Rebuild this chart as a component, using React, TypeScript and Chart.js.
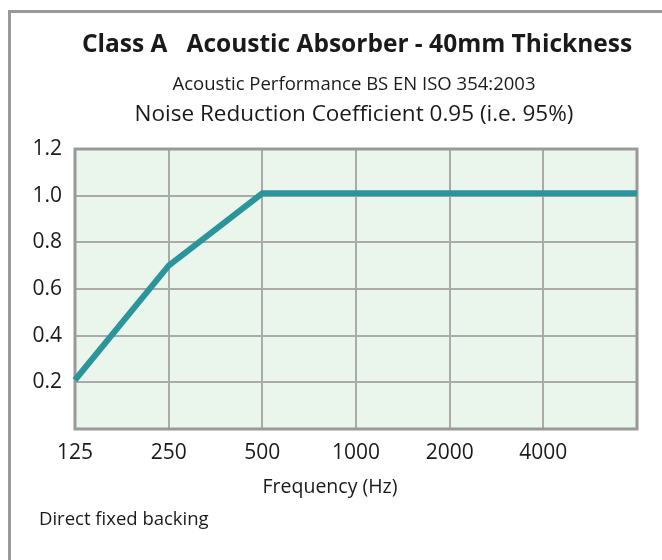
import React, { useEffect, useRef } from 'react';
import { Chart, registerables } from 'chart.js';

Chart.register(...registerables);

const frequencies = ['125', '250', '500', '1000', '2000', '4000', ''];
const absorption = [0.21, 0.7, 1.01, 1.01, 1.01, 1.01, 1.01];
const titleText = 'Class A   Acoustic Absorber - 40mm Thickness';
const subtitleText = 'Acoustic Performance BS EN ISO 354:2003';
const nrcText = 'Noise Reduction Coefficient 0.95 (i.e. 95%)';
const xAxisTitle = 'Frequency (Hz)';
const footnote = 'Direct fixed backing';

const FONT = '"Open Sans", "Noto Sans", sans-serif';

const decorPlugin = {
  id: 'decor',
  beforeDraw(chart: any) {
    const { ctx, chartArea } = chart;
    ctx.save();
    ctx.fillStyle = '#ffffff';
    ctx.fillRect(0, 0, chart.width, chart.height);
    ctx.fillStyle = '#eaf5ec';
    ctx.fillRect(chartArea.left, chartArea.top, chartArea.right - chartArea.left, chartArea.bottom - chartArea.top);
    ctx.restore();
  },
  beforeDatasetsDraw(chart: any) {
    const { ctx, chartArea } = chart;
    ctx.save();
    ctx.strokeStyle = '#999999';
    ctx.lineWidth = 3;
    ctx.strokeRect(chartArea.left, chartArea.top, chartArea.right - chartArea.left, chartArea.bottom - chartArea.top);
    ctx.restore();
  },
  afterDraw(chart: any) {
    const { ctx } = chart;
    ctx.save();
    ctx.fillStyle = '#999999';
    ctx.fillRect(8, 10, 3, chart.height - 10);
    ctx.fillRect(8, 10, chart.width - 8, 3);
    ctx.fillStyle = '#1a1a1a';
    ctx.textBaseline = 'alphabetic';
    ctx.textAlign = 'center';
    ctx.font = `bold 24.5px ${FONT}`;
    ctx.fillText(titleText, 357, 52);
    ctx.font = `18.5px ${FONT}`;
    ctx.fillText(subtitleText, 354, 90);
    ctx.font = `22.5px ${FONT}`;
    ctx.fillText(nrcText, 354, 121);
    ctx.font = `19.5px ${FONT}`;
    ctx.fillText(xAxisTitle, 330, 493);
    ctx.textAlign = 'left';
    ctx.font = `18.5px ${FONT}`;
    ctx.fillText(footnote, 39, 525);
    ctx.restore();
  },
};

export default function App() {
  const ref = useRef<HTMLCanvasElement>(null);
  useEffect(() => {
    document.body.style.margin = '0';
    const canvas = ref.current!;
    const chart = new Chart(canvas, {
      type: 'line',
      data: {
        labels: frequencies,
        datasets: [
          {
            data: absorption,
            borderColor: '#2a959a',
            borderWidth: 6,
            pointRadius: 0,
            tension: 0,
            fill: false,
          },
        ],
      },
      options: {
        responsive: false,
        animation: false,
        devicePixelRatio: 1,
        layout: { padding: { left: 0, top: 149, right: 25, bottom: 0 } },
        plugins: { legend: { display: false }, tooltip: { enabled: false }, title: { display: false } },
        scales: {
          x: {
            type: 'category',
            offset: false,
            grid: { color: '#aaaaaa', lineWidth: 2, drawTicks: false },
            border: { display: false },
            ticks: {
              color: '#1a1a1a',
              font: { family: FONT, size: 21 },
              padding: 11,
              maxRotation: 0,
              autoSkip: false,
            },
            afterFit(scale: any) {
              scale.height = 131;
            },
          },
          y: {
            min: 0,
            max: 1.2,
            grid: { color: '#aaaaaa', lineWidth: 2, drawTicks: false },
            border: { display: false },
            ticks: {
              stepSize: 0.2,
              color: '#1a1a1a',
              font: { family: FONT, size: 21 },
              padding: 13,
              callback: (v: any) => (Math.abs(Number(v)) < 1e-9 ? '' : Number(v).toFixed(1)),
            },
            afterFit(scale: any) {
              scale.width = 75;
            },
          },
        },
      },
      plugins: [decorPlugin],
    });
    return () => chart.destroy();
  }, []);
  return <canvas ref={ref} width={662} height={560} style={{ display: 'block', width: 662, height: 560 }} />;
}
